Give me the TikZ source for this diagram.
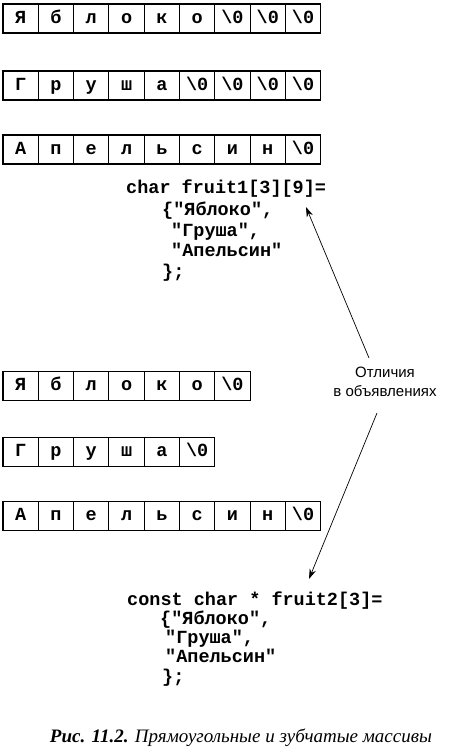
\documentclass[tikz,border=0pt]{standalone}
\usepackage{fontspec}
\setmainfont{Liberation Serif}
\setsansfont{Liberation Sans}
\setmonofont{Liberation Mono}
\usetikzlibrary{arrows.meta}

\tikzset{
	cell/.style={draw, line width=1.1pt, minimum width=35.3pt, minimum height=29pt, inner sep=0pt,
		text height=13pt, text depth=4pt,
		font=\ttfamily\bfseries\fontsize{18.5}{18.5}\selectfont},
	codeline/.style={anchor=base west, inner sep=0pt, font=\ttfamily\bfseries\fontsize{18.5}{18.5}\selectfont},
	note/.style={align=center, inner sep=2pt, font=\sffamily\fontsize{15}{19}\selectfont},
	pointer/.style={-{Stealth[length=10pt, width=6.5pt]}, line width=0.7pt}
}

\def\nul{\textbackslash0}

\begin{document}
\begin{tikzpicture}[x=1pt, y=-1pt]

		\useasboundingbox (0,0) rectangle (460,753);

		\def\w{35.3}
		\def\xo{3}

		% Tableau rectangulaire
		\foreach \c [count=\i] in {Я,б,л,о,к,о,\nul,\nul,\nul}
			\node[cell] (rect1-\i) at ({\xo+(\i-0.5)*\w}, 18.5) {\c};
		\foreach \c [count=\i] in {Г,р,у,ш,а,\nul,\nul,\nul,\nul}
			\node[cell] (rect2-\i) at ({\xo+(\i-0.5)*\w}, 85.5) {\c};
		\foreach \c [count=\i] in {А,п,е,л,ь,с,и,н,\nul}
			\node[cell] (rect3-\i) at ({\xo+(\i-0.5)*\w}, 149.5) {\c};

		\node[codeline] (decl1) at (126,193) {char fruit1[3][9]=};
		\node[codeline] (decl1-a) at (162,215) {\{"Яблоко",};
		\node[codeline] (decl1-b) at (171,236) {"Груша",};
		\node[codeline] (decl1-c) at (171,256) {"Апельсин"};
		\node[codeline] (decl1-d) at (162,277) {\};};

		% Tableau en dents de scie
		\foreach \c [count=\i] in {Я,б,л,о,к,о,\nul}
			\node[cell] (zub1-\i) at ({\xo+(\i-0.5)*\w}, 386) {\c};
		\foreach \c [count=\i] in {Г,р,у,ш,а,\nul}
			\node[cell] (zub2-\i) at ({\xo+(\i-0.5)*\w}, 452) {\c};
		\foreach \c [count=\i] in {А,п,е,л,ь,с,и,н,\nul}
			\node[cell] (zub3-\i) at ({\xo+(\i-0.5)*\w}, 516) {\c};

		\node[codeline] (decl2) at (127,605) {const char * fruit2[3]=};
		\node[codeline] (decl2-a) at (160,624) {\{"Яблоко",};
		\node[codeline] (decl2-b) at (165,643) {"Груша",};
		\node[codeline] (decl2-c) at (165,662) {"Апельсин"};
		\node[codeline] (decl2-d) at (162,682) {\};};

		% Les fleches
		\node[note] (diff) at (385,382) {Отличия\\в объявлениях};
		\coordinate (tip1) at (306,207);
		\coordinate (tip2) at (309,579);

		\draw[pointer] ([xshift=-16pt, yshift=7pt]diff.north) -- (tip1);
		\draw[pointer] ([xshift=-8pt, yshift=-14pt]diff.south) -- (tip2);

		% Legende
		\node[anchor=base, inner sep=0pt, font=\itshape\fontsize{19}{19}\selectfont] (caption) at (241,742)
			{\textbf{Рис. 11.2.} Прямоугольные и зубчатые массивы};

\end{tikzpicture}
\end{document}
